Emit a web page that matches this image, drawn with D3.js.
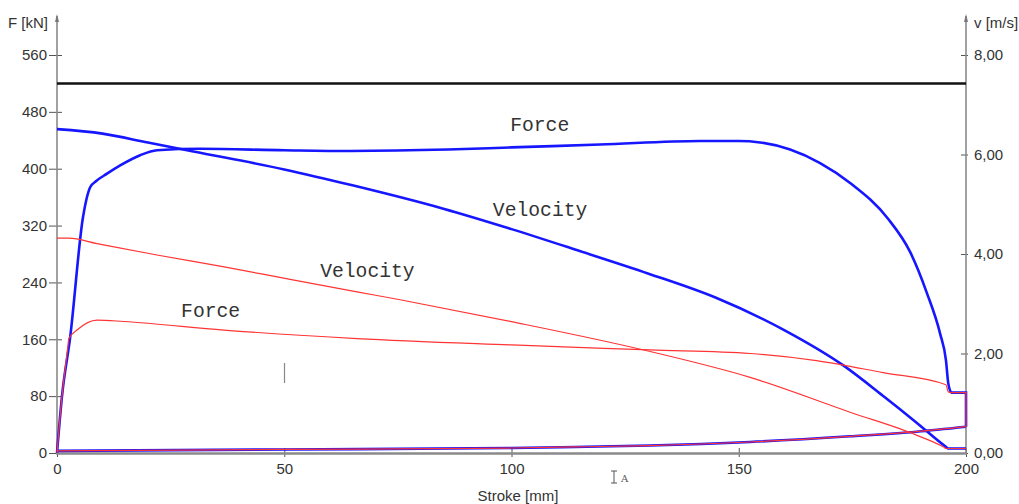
<!DOCTYPE html>
<html>
<head>
<meta charset="utf-8">
<script src="https://cdn.jsdelivr.net/npm/d3@7"></script>
<style>
  html, body { margin: 0; padding: 0; background: #fff; }
  svg { display: block; }
</style>
</head>
<body>
<svg id="chart" width="1019" height="504"></svg>
<script>
// stroke in mm, force in kN, velocity in m/s
const forceHighStroke = [0, 1.1, 2.9, 5.7, 7.3, 8.5, 11, 14, 18.3, 22, 31.5, 50, 64.5, 86, 100, 119.5, 141.5, 150, 154.7, 161.3, 167.9, 174.5, 182.8, 187.7, 191.4, 194.3, 195.6, 196.1, 196.8, 200, 200.01];
const forceHighKN = [0, 80, 163, 331, 374, 382, 393, 405, 419, 426, 428, 426, 425, 427, 430, 434, 439, 439, 437, 427, 408, 380, 330, 283, 225, 168, 130, 98, 85, 85, 37];

const velHighStroke = [0, 10, 20, 30, 50, 65, 85, 100, 115, 130, 145, 160, 173, 182, 189, 195.5, 196.1, 200];
const velHighMs = [6.51, 6.42, 6.24, 6.06, 5.70, 5.38, 4.91, 4.50, 4.06, 3.61, 3.12, 2.47, 1.76, 1.13, 0.62, 0.13, 0.09, 0.09];

const forceLowStroke = [0, 1.1, 2.4, 2.6, 4.4, 8.8, 14.7, 36.7, 66, 100, 130.5, 152.5, 167.1, 181.8, 195.6, 196.1, 196.8, 200, 200.01];
const forceLowKN = [0, 80, 150, 161, 173, 187, 185, 173, 161, 152, 145, 140, 130, 113, 96, 86, 85, 85, 37];

const velLowStroke = [0, 2.6, 8.8, 22, 36.8, 51.3, 66, 75.5, 100, 130.5, 152.5, 174.5, 189.1, 195.1, 195.7, 200];
const velLowMs = [4.32, 4.32, 4.21, 3.98, 3.74, 3.49, 3.24, 3.08, 2.64, 2.04, 1.52, 0.82, 0.36, 0.12, 0.09, 0.09];

const baseStroke = [0, 50, 100, 114, 130.5, 152.5, 174.5, 189.1, 200];
const baseKN = [3, 5, 7, 8.5, 10.5, 15.5, 23.5, 30, 37];

const limitForce = [520];

const xTicks = [0, 50, 100, 150, 200];
const forceTicks = [0, 80, 160, 240, 320, 400, 480, 560];
const velTicks = [0, 2, 4, 6, 8];

const labels = [
    { text: "Force", stroke: 99.7, force: 453 },
    { text: "Velocity", stroke: 95.9, force: 333 },
    { text: "Velocity", stroke: 57.9, force: 248 },
    { text: "Force", stroke: 27.3, force: 191 }
];

const svg = d3.select("#chart");
const x = d3.scaleLinear().domain([0, 200]).range([57, 966]);
const yF = d3.scaleLinear().domain([0, 560]).range([453, 55]);
const yV = d3.scaleLinear().domain([0, 8]).range([453, 55]);

const axisColor = "#8a8a8a";
const textColor = "#333";
const sans = "Liberation Sans, Arial, sans-serif";

// axes
const left = svg.append("g").attr("transform", "translate(57,0)")
    .call(d3.axisLeft(yF).tickValues(forceTicks).tickSize(8).tickPadding(2));
left.select(".domain").remove();
left.selectAll(".tick line").attr("x1", 5).attr("x2", -8).attr("stroke", "#555");
left.selectAll("text").style("font-family", sans).style("font-size", "15px").attr("fill", textColor);

const right = svg.append("g").attr("transform", "translate(966,0)")
    .call(d3.axisRight(yV).tickValues(velTicks).tickSize(2).tickPadding(6).tickFormat(d => d.toFixed(2).replace(".", ",")));
right.select(".domain").remove();
right.selectAll(".tick line").attr("x1", -5).attr("x2", 2).attr("stroke", "#555");
right.selectAll("text").style("font-family", sans).style("font-size", "15px").attr("fill", textColor);

const bottom = svg.append("g").attr("transform", "translate(0,453)")
    .call(d3.axisBottom(x).tickValues(xTicks).tickSize(4).tickPadding(6));
bottom.select(".domain").remove();
bottom.selectAll(".tick line").attr("y1", -5).attr("y2", 4).attr("stroke", "#555");
bottom.selectAll("text").style("font-family", sans).style("font-size", "15px").attr("fill", textColor);

// axis lines with arrow tips
[57, 966].forEach(function (ax) {
    svg.append("line").attr("x1", ax).attr("x2", ax).attr("y1", 454).attr("y2", 16)
        .attr("stroke", axisColor).attr("stroke-width", 1.6);
    svg.append("path").attr("d", `M${ax - 2},22 L${ax},14 L${ax + 2},22 Z`).attr("fill", "#777");
});
svg.append("line").attr("x1", 56).attr("x2", 967).attr("y1", 453.5).attr("y2", 453.5)
    .attr("stroke", axisColor).attr("stroke-width", 2.4);

svg.append("text").attr("x", 48).attr("y", 28).attr("text-anchor", "end")
    .style("font-family", sans).style("font-size", "15px").attr("fill", textColor).text("F [kN]");
svg.append("text").attr("x", 974).attr("y", 28)
    .style("font-family", sans).style("font-size", "15px").attr("fill", textColor).text("v [m/s]");
svg.append("text").attr("x", 518).attr("y", 501).attr("text-anchor", "middle")
    .style("font-family", sans).style("font-size", "15px").attr("fill", textColor).text("Stroke [mm]");

// limit line
svg.selectAll(".limit").data(limitForce).enter().append("line")
    .attr("x1", x(0)).attr("x2", x(200))
    .attr("y1", d => yF(d)).attr("y2", d => yF(d))
    .attr("stroke", "#111").attr("stroke-width", 2.6);

const zip = (xs, ys) => xs.map((v, i) => [v, ys[i]]);
const lineF = d3.line().x(d => x(d[0])).y(d => yF(d[1])).curve(d3.curveMonotoneX);
const lineV = d3.line().x(d => x(d[0])).y(d => yV(d[1])).curve(d3.curveMonotoneX);

const blue = "#1616ff";
const red = "#ff3434";

// thick blue measurements
svg.append("path").attr("d", lineF(zip(baseStroke, baseKN))).attr("fill", "none").attr("stroke", blue).attr("stroke-width", 2.6);
svg.append("path").attr("d", lineF(zip(forceHighStroke, forceHighKN))).attr("fill", "none").attr("stroke", blue).attr("stroke-width", 2.6);
svg.append("path").attr("d", lineV(zip(velHighStroke, velHighMs))).attr("fill", "none").attr("stroke", blue).attr("stroke-width", 2.6);

// thin red measurements
svg.append("path").attr("d", lineF(zip(baseStroke, baseKN))).attr("fill", "none").attr("stroke", red).attr("stroke-width", 1.2);
svg.append("path").attr("d", lineF(zip(forceLowStroke, forceLowKN))).attr("fill", "none").attr("stroke", red).attr("stroke-width", 1.2);
svg.append("path").attr("d", lineV(zip(velLowStroke, velLowMs))).attr("fill", "none").attr("stroke", red).attr("stroke-width", 1.2);

// curve labels
svg.selectAll(".lbl").data(labels).enter().append("text")
    .attr("x", d => x(d.stroke)).attr("y", d => yF(d.force))
    .style("font-family", "Courier New, Liberation Mono, monospace")
    .style("font-size", "19.7px")
    .attr("fill", textColor)
    .text(d => d.text);

// cursor marks left on the screenshot
svg.append("line").attr("x1", 284.5).attr("x2", 284.5).attr("y1", 363).attr("y2", 383)
    .attr("stroke", "#888").attr("stroke-width", 1.2);
svg.append("path").attr("d", "M611,471 L617,471 M614,471 L614,483 M611,483 L617,483")
    .attr("stroke", "#555").attr("stroke-width", 1).attr("fill", "none");
svg.append("text").attr("x", 621).attr("y", 482)
    .style("font-family", "DejaVu Serif, serif").style("font-size", "10px").attr("fill", "#555").text("A");
</script>
</body>
</html>
